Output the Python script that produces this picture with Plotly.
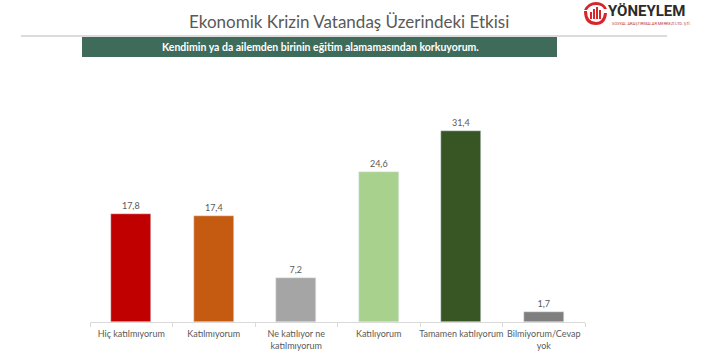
import plotly.graph_objects as go

categories = ["Hiç katılmıyorum", "Katılmıyorum", "Ne katılıyor ne<br>katılmıyorum",
              "Katılıyorum", "Tamamen katılıyorum", "Bilmiyorum/Cevap<br>yok"]
values = [17.8, 17.4, 7.2, 24.6, 31.4, 1.7]
labels = ["17,8", "17,4", "7,2", "24,6", "31,4", "1,7"]
colors = ["#C00000", "#C55A11", "#A5A5A5", "#A9D18E", "#375623", "#7F7F7F"]

W, H = 702, 351
def px(x):
    return x / W
def py(y):
    return 1 - y / H

fig = go.Figure(go.Bar(
    x=categories, y=values, marker_color=colors, width=0.485,
    text=labels, textposition="outside", cliponaxis=False,
    textfont=dict(size=9, color="#595959", family="Lato"),
))

font_main = "Lato"
shapes = [
    dict(type="line", xref="paper", yref="paper", x0=px(21), x1=px(667), y0=py(36), y1=py(36),
         line=dict(color="#D0D0D0", width=1.5)),
    dict(type="rect", xref="paper", yref="paper", x0=px(82), x1=px(557), y0=py(37), y1=py(57),
         fillcolor="#3F6B5B", line=dict(width=0)),
    # logo icon
    dict(type="path", xref="paper", yref="paper",
         path=f"M {px(584)},{py(11)} Q {px(584)},{py(25)} {px(596)},{py(25)} Q {px(606)},{py(25)} {px(607)},{py(13)} "
              f"L {px(604)},{py(13)} Q {px(603)},{py(22)} {px(596)},{py(22)} Q {px(587)},{py(22)} {px(587)},{py(11)} Z",
         fillcolor="#D7262B", line=dict(width=0)),
    dict(type="path", xref="paper", yref="paper",
         path=f"M {px(584)},{py(10)} Q {px(588)},{py(2)} {px(596)},{py(2)} Q {px(604)},{py(2)} {px(607)},{py(9)} "
              f"L {px(604)},{py(9)} Q {px(602)},{py(5)} {px(596)},{py(5)} Q {px(590)},{py(5)} {px(587)},{py(10)} Z",
         fillcolor="#D7262B", line=dict(width=0)),
]
for x0, top in [(590, 12), (593, 9), (596, 7), (599, 10)]:
    shapes.append(dict(type="rect", xref="paper", yref="paper", x0=px(x0), x1=px(x0 + 2),
                       y0=py(top), y1=py(19), fillcolor="#D7262B", line=dict(width=0)))

annotations = [
    dict(text="Ekonomik Krizin Vatandaş Üzerindeki Etkisi", xref="paper", yref="paper",
         x=px(349), y=py(21), showarrow=False, xanchor="center", yanchor="middle",
         font=dict(size=17, color="#595959", family=font_main)),
    dict(text="<b>Kendimin ya da ailemden birinin eğitim alamamasından korkuyorum.</b>",
         xref="paper", yref="paper", x=px(320), y=py(47), showarrow=False,
         xanchor="center", yanchor="middle", font=dict(size=10.5, color="white", family=font_main)),
    dict(text="<b>YÖNEYLEM</b>", xref="paper", yref="paper", x=px(606), y=py(11),
         showarrow=False, xanchor="left", yanchor="middle",
         font=dict(size=15, color="#2B2B2B", family="Roboto")),
    dict(text="SOSYAL ARAŞTIRMALAR MERKEZİ LTD. ŞTİ.", xref="paper", yref="paper", x=px(610), y=py(23),
         showarrow=False, xanchor="left", yanchor="middle",
         font=dict(size=4, color="#C0392B", family="Roboto")),
]

fig.update_layout(
    width=W, height=H, margin=dict(l=0, r=0, t=0, b=0),
    paper_bgcolor="white", plot_bgcolor="white", showlegend=False,
    shapes=shapes, annotations=annotations,
    xaxis=dict(domain=[px(90), px(585)], showline=True, linecolor="#D9D9D9", linewidth=1,
               ticks="outside", tickson="boundaries", ticklen=4, tickcolor="#D9D9D9",
               tickangle=0, automargin=False, ticklabelstandoff=3,
               tickfont=dict(size=9, color="#595959", family=font_main), showgrid=False,
               fixedrange=True),
    yaxis=dict(domain=[py(322), py(100)], range=[0, 222 / 6.08], visible=False, showgrid=False,
               automargin=False),
    bargap=0,
)

fig.write_html("out.html")
